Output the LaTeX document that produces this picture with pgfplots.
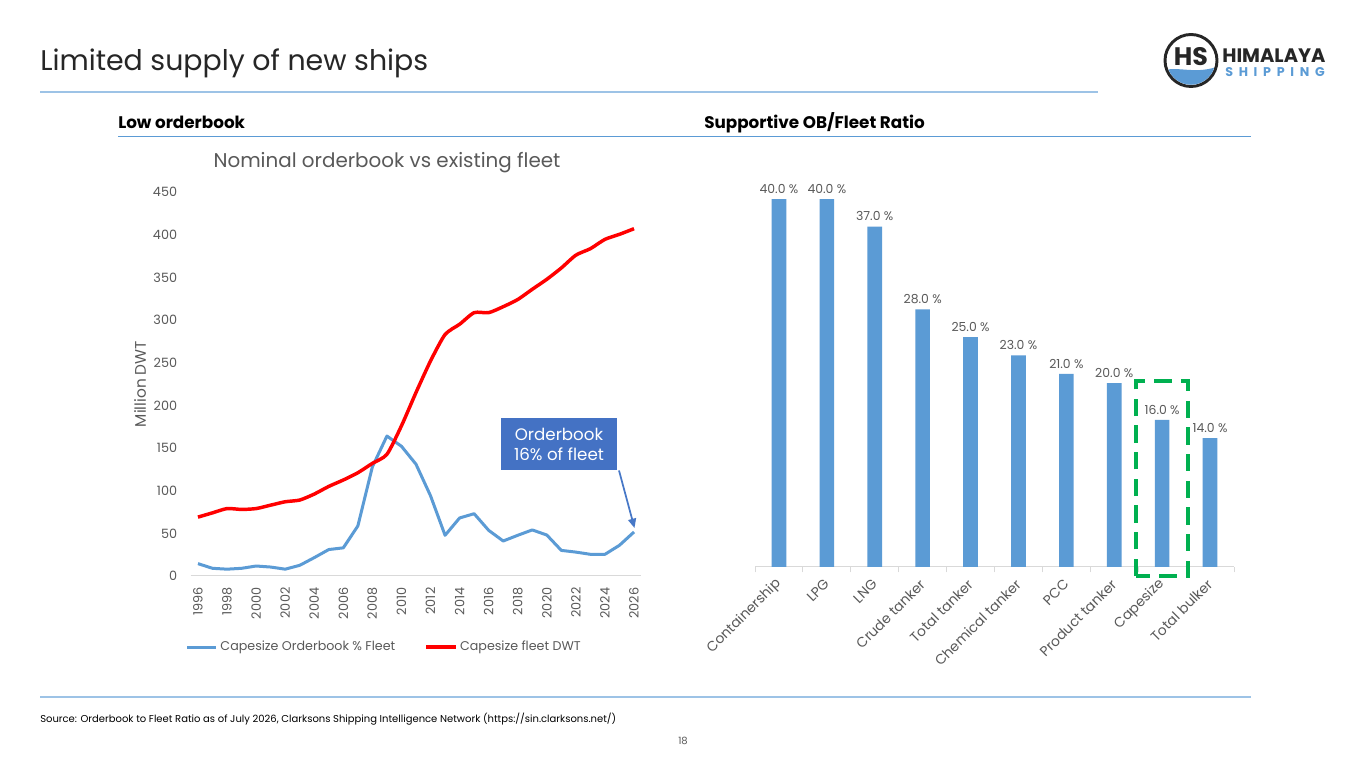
\documentclass[border=0pt]{standalone}
\usepackage{pgfplots}
\pgfplotsset{compat=1.18}
\usepackage{pgfplotstable}
\usepackage{fontspec}
\setmainfont{Poppins}
\usetikzlibrary{arrows.meta}
\definecolor{xlblue}{HTML}{5B9BD5}
\definecolor{boxblue}{HTML}{4472C4}
\definecolor{txtgray}{HTML}{595959}
\definecolor{axgray}{HTML}{D9D9D9}
\definecolor{hdrline}{HTML}{9DC3E6}
\definecolor{secline}{HTML}{5B9BD5}
\definecolor{xgreen}{HTML}{00B050}
\definecolor{dark}{HTML}{262626}
\definecolor{xred}{HTML}{FF0000}

\pgfplotstableread{
year ob fleet
1996 14.5 69
1997 9 74
1998 8 79
1999 9 78
2000 11.7 79
2001 10.5 83
2002 8 87
2003 12.5 89
2004 21.5 96
2005 31 105
2006 33 112.5
2007 58.6 121
2008 128 132
2009 164 142.6
2010 152 176
2011 131 215
2012 94 252
2013 47.7 283
2014 68 295
2015 73 308.6
2016 53.5 308.6
2017 41 315.6
2018 47.7 324
2019 54 336
2020 48 347.7
2021 30 361
2022 28 376
2023 25.4 383.6
2024 25.4 394.5
2025 36 400.4
2026 51.6 407
}\capedata

\pgfplotstableread{
idx val
0 40
1 40
2 37
3 28
4 25
5 23
6 21
7 20
8 16
9 14
}\ratiodata

\newcommand\fs[1]{\fontsize{#1pt}{#1pt}\selectfont}

\begin{document}
\begin{tikzpicture}[x=0.75pt,y=0.75pt]
\path[use as bounding box, fill=white] (0,0) rectangle (1365,768);

% header
\node[anchor=base west, inner sep=0pt, text=dark] at (40,697) {\fs{21.3}Limited supply of new ships};
\draw[hdrline, line width=1pt] (40,676) -- (1098,676);
\node[anchor=base west, inner sep=0pt, text=black] at (118,639) {\fs{12.6}\bfseries Low orderbook};
\node[anchor=base west, inner sep=0pt, text=black] at (704,639) {\fs{12.6}\bfseries Supportive OB/Fleet Ratio};
\draw[secline, line width=1.2pt] (118,631.5) -- (1251,631.5);

% logo
\draw[dark, line width=2.2pt] (1191,707.5) circle (19.5pt);
\begin{scope}
\clip (1191,707.5) circle (18.2pt);
\fill[xlblue] (1160,697) .. controls (1180,703) and (1195,692) .. (1222,703) -- (1222,675) -- (1160,675) -- cycle;
\end{scope}
\node[text=dark, inner sep=0pt] at (1191,711) {\fs{19}\bfseries HS};
\node[anchor=base west, inner sep=0pt, text=dark] at (1222,705) {\fs{14.6}\bfseries HIMALAYA};
\node[anchor=base west, inner sep=0pt, text=xlblue] at (1225,691) {\fs{9.5}\addfontfeatures{LetterSpace=45}\bfseries SHIPPING};

% footer
\draw[hdrline, line width=1pt] (40,71) -- (1251,71);
\node[anchor=base west, inner sep=0pt, text=black] at (40,45) {\fs{7.5}Source: Orderbook to Fleet Ratio as of July 2026, Clarksons Shipping Intelligence Network (https://sin.clarksons.net/)};
\node[inner sep=0pt, text=txtgray] at (683,27) {\fs{7.5}18};

% left chart title
\node[text=txtgray, inner sep=0pt] at (387,605) {\fs{14.9}Nominal orderbook vs existing fleet};

\begin{axis}[
  at={(143.025pt,144pt)}, anchor=south west,
  scale only axis, width=337.95pt, height=288pt,
  xmin=1995.5, xmax=2026.5, ymin=0, ymax=450,
  xtick={1996,1998,...,2026}, ytick={0,50,...,450},
  major tick length=0pt, tick pos=left,
  axis line style={draw=none},
  /pgf/number format/assume math mode=true,
  /pgf/number format/1000 sep={},
  tick label style={font=\fs{9.6}, text=txtgray, inner sep=0pt},
  xticklabel style={rotate=90, anchor=east},
  xticklabel shift=8.5pt,
  yticklabel shift=10pt,
  ylabel={Million DWT},
  ylabel style={at={(axis description cs:-0.1125,0.5)}, anchor=center, font=\fs{11.5}, text=txtgray},
  legend columns=2,
  legend style={draw=none, fill=none, at={(0.43,-0.185)}, anchor=center, font=\fs{9.5}, text=txtgray,
    /tikz/every even column/.append style={column sep=20pt}},
  legend image code/.code={\draw[#1] (0pt,0pt) -- (22pt,0pt);},
  clip=false,
]
\draw[axgray, line width=0.75pt] (rel axis cs:0,0) -- (rel axis cs:1,0);
\addplot[xlblue, line width=2.25pt, line join=round] table[x=year, y=ob] {\capedata};
\addlegendentry{Capesize Orderbook \% Fleet}
\addplot[xred, line width=2.6pt, smooth, tension=0.4, line join=round] table[x=year, y=fleet] {\capedata};
\addlegendentry{Capesize fleet DWT}
\end{axis}

% annotation
\node[fill=boxblue, text=white, minimum width=87pt, minimum height=39pt, align=center, inner sep=0pt, font=\fs{12.5}] at (559,324) {Orderbook\\[2.5pt]16\% of fleet};
\draw[boxblue!85!xlblue, line width=1.3pt, -{Triangle[length=7pt,width=6pt]}] (619,297.5) -- (634.5,240);

% right chart
\begin{axis}[
  at={(566.25pt,150.75pt)}, anchor=south west,
  scale only axis, width=359.25pt, height=276pt,
  xmin=-0.5, xmax=9.5, ymin=0, ymax=40,
  ybar, bar width=11pt,
  axis line style={draw=none},
  ytick=\empty, tick pos=left,
  xtick={0,...,9},
  xticklabels={Containership,LPG,LNG,Crude tanker,Total tanker,Chemical tanker,PCC,Product tanker,Capesize,Total bulker},
  major tick length=0pt,
  extra x ticks={-0.5,0.5,...,9.5},
  extra x tick labels={},
  extra x tick style={major tick length=4pt, tick align=outside, major tick style={axgray, line width=0.75pt}},
  xticklabel style={rotate=45, anchor=east, font=\fs{10.4}, text=txtgray, inner sep=0pt},
  xticklabel shift=11pt,
  /pgf/number format/assume math mode=true,
  nodes near coords={\pgfmathprintnumber[fixed,fixed zerofill,precision=1,assume math mode=true]{\pgfplotspointmeta}~\%},
  every node near coord/.append style={font=\fs{9.3}, text=txtgray, inner sep=2pt, yshift=2pt},
  clip=false,
]
\draw[axgray, line width=0.75pt] (rel axis cs:0,0) -- (rel axis cs:1,0);
\addplot[fill=xlblue, draw=none] table[x=idx, y=val] {\ratiodata};
\draw[xgreen, line width=3pt, dash pattern=on 13pt off 7pt] (axis cs:7.45,-0.98) rectangle (axis cs:8.54,20.2);
\end{axis}
\end{tikzpicture}
\end{document}
